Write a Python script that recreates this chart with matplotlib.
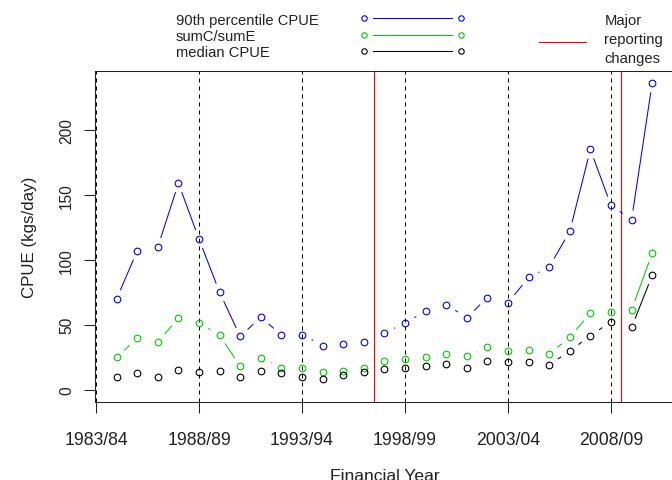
import numpy as np
import matplotlib
matplotlib.use("Agg")
import matplotlib.pyplot as plt
from matplotlib.lines import Line2D
from matplotlib.legend_handler import HandlerBase

plt.rcParams['font.family'] = ['Liberation Sans', 'DejaVu Sans']

# ---------------- data ----------------
years = list(range(1984, 2011))
p90 = [70, 107, 110, 159, 116, 75, 41, 56, 42, 42.5, 34, 35, 37, 43.5, 51.5,
       60.5, 65.5, 55.5, 71, 67, 86.5, 94.5, 122, 185, 142, 131, 236]
sumc_sume = [25, 39.5, 37, 55, 51.5, 42, 18, 24.5, 17, 17, 13.5, 14.5, 17, 22.5,
             24, 25, 27.5, 26, 33, 30, 30.5, 27.5, 40.5, 59, 59.5, 61.5, 105]
median = [10, 13, 10, 15.5, 13.5, 14.5, 10, 14.5, 13, 10, 8, 11.5, 13.5, 16, 17,
          18, 19.5, 17, 22.5, 21, 21, 19, 30, 41.5, 52.5, 48, 88]
tick_years = [1983, 1988, 1993, 1998, 2003, 2008]
tick_labels = ['1983/84', '1988/89', '1993/94', '1998/99', '2003/04', '2008/09']
y_ticks = [0, 50, 100, 150, 200]
change_years = [1996.5, 2008.5]
series_names = ['90th percentile CPUE', 'sumC/sumE', 'median CPUE']
change_label = 'Major\nreporting\nchanges'

colors = ['#0000FF', '#00CD00', '#000000']
red = '#FF0000'

# ---------------- figure / axes ----------------
W, H = 672, 481
fig = plt.figure(figsize=(W / 100, H / 100), dpi=100)
ax_l, ax_r, ax_t, ax_b = 95.2, 673.6, 72.0, 403.0
ax = fig.add_axes([ax_l / W, 1 - ax_b / H, (ax_r - ax_l) / W, (ax_b - ax_t) / H])

x0, x1 = min(years), max(years)
ax.set_xlim(x0 - 0.04 * (x1 - x0), x1 + 0.04 * (x1 - x0))
y0, y1 = 0, max(p90)
ax.set_ylim(y0 - 0.04 * (y1 - y0), y1 + 0.04 * (y1 - y0))

for s in ax.spines.values():
    s.set_linewidth(0.75)
    s.set_color('#222222')

ax.set_xticks(tick_years)
ax.set_xticklabels(tick_labels)
ax.set_yticks(y_ticks)
ax.tick_params(axis='x', direction='out', length=7.6, width=0.75, pad=13,
               labelsize=12.7, colors='#222222')
ax.tick_params(axis='y', direction='out', length=7.6, width=0.75, pad=7.7,
               labelsize=11.2, colors='#222222', labelrotation=90)
for t in ax.get_yticklabels():
    t.set_verticalalignment('center')

# reference lines
for yr in tick_years:
    ax.axvline(yr, color='black', lw=0.75, dashes=(3.84, 3.84), zorder=1)
for yr in change_years:
    ax.axvline(yr, color=red, lw=0.8, zorder=2)

# R type="b" style: points with gapped connecting segments
K, D = 1.25, 9.2


def draw_b(xv, yv, color):
    pts = ax.transData.transform(np.column_stack([xv, yv]))
    inv = ax.transData.inverted()
    for (xa, ya), (xb, yb) in zip(pts[:-1], pts[1:]):
        dx, dy = xb - xa, yb - ya
        L = np.hypot(dx / K, dy)
        if L <= 2 * D:
            continue
        f = D / L
        seg = inv.transform([[xa + f * dx, ya + f * dy], [xb - f * dx, yb - f * dy]])
        ax.plot(seg[:, 0], seg[:, 1], color=color, lw=0.75,
                solid_capstyle='butt', zorder=3)
    ax.plot(xv, yv, ls='none', marker='o', ms=4.8, mfc='none', mec=color,
            mew=0.8, zorder=4)


for vals, c in zip([p90, sumc_sume, median], colors):
    draw_b(years, vals, c)

ax.set_xlabel('Financial Year', fontsize=12.6, color='#222222')
ax.xaxis.set_label_coords(0.5, -(481.5 - ax_b) / (ax_b - ax_t))
ax.xaxis.label.set_verticalalignment('baseline')
ax.set_ylabel('CPUE (kgs/day)', fontsize=12.2, color='#222222')
ax.yaxis.set_label_coords((36.9 - ax_l) / (ax_r - ax_l), 0.5)


# ---------------- legends ----------------
class PointLinePoint(HandlerBase):
    def create_artists(self, legend, orig_handle, xdescent, ydescent,
                       width, height, fontsize, trans):
        c = orig_handle.get_color()
        y = height / 2 - ydescent
        xa = -xdescent
        xb = xa + width
        g = 6.8
        ln = Line2D([xa + g, xb - g], [y, y], color=c, lw=0.75)
        mk = Line2D([xa, xb], [y, y], ls='none', marker='o', ms=3.9,
                    mfc='none', mec=c, mew=0.8)
        ln.set_transform(trans)
        mk.set_transform(trans)
        return [ln, mk]


class PlainLine(HandlerBase):
    def create_artists(self, legend, orig_handle, xdescent, ydescent,
                       width, height, fontsize, trans):
        y = height / 2 - ydescent - 2.0
        ln = Line2D([-xdescent, -xdescent + width], [y, y],
                    color=orig_handle.get_color(), lw=0.8)
        ln.set_transform(trans)
        return [ln]


fs_leg = 10.6
top_y = 1 - 13.5 / H
common = dict(loc='upper left', bbox_transform=fig.transFigure, frameon=False,
              fontsize=fs_leg, borderpad=0, borderaxespad=0, labelspacing=0.15)

# text column of the series legend (left-aligned labels)
text_handles = [Line2D([], [], color=c, visible=False) for c in colors]
leg_text = fig.legend(text_handles, series_names, bbox_to_anchor=(176 / W, top_y),
                      handlelength=0, handletextpad=0, **common)
for t in leg_text.get_texts():
    t.set_color('#222222')

# symbol column of the series legend
sym_handles = [Line2D([], [], color=c) for c in colors]
leg_sym = fig.legend(sym_handles, ['', '', ''], bbox_to_anchor=(364 / W, top_y),
                     handlelength=6.6, handletextpad=0,
                     handler_map={Line2D: PointLinePoint()}, **common)

red_handle = Line2D([], [], color=red)
leg_red = fig.legend([red_handle], [change_label], bbox_to_anchor=(539 / W, top_y),
                     handlelength=3.2, handletextpad=1.24,
                     handler_map={Line2D: PlainLine()}, **common)
for t in leg_red.get_texts():
    t.set_color('#222222')
    t.set_linespacing(1.5)
    t.set_multialignment('left')

fig.savefig('out.png', dpi=100)
